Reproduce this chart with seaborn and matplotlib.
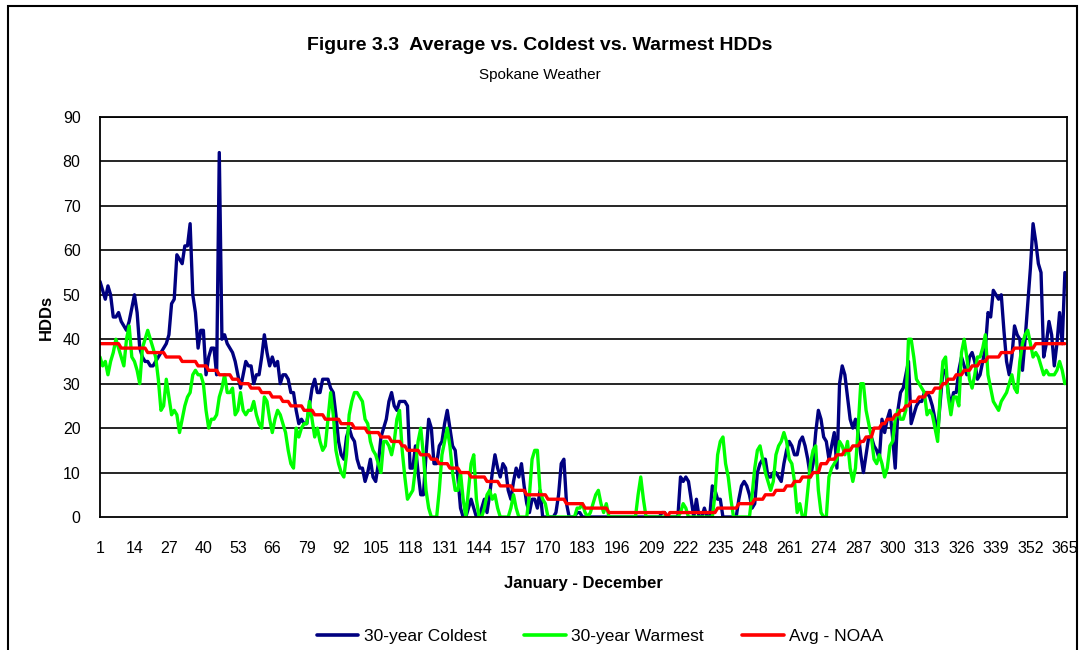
import numpy as np
import pandas as pd
import matplotlib
matplotlib.use("Agg")
import matplotlib.pyplot as plt
from matplotlib import font_manager
from matplotlib.patches import Rectangle
from matplotlib.lines import Line2D
import seaborn as sns

# ---------------- data ----------------
coldest = [
    53, 51, 49, 52, 50, 45, 45, 46, 44, 43,
    42, 44, 47, 50, 46, 38, 36, 35, 35, 34,
    34, 35, 36, 37, 38, 39, 41, 48, 49, 59,
    58, 57, 61, 61, 66, 50, 46, 38, 42, 42,
    32, 36, 38, 38, 32, 82, 40, 41, 39, 38,
    37, 35, 32, 29, 32, 35, 34, 34, 30, 32,
    32, 36, 41, 37, 34, 36, 34, 35, 30, 32,
    32, 31, 28, 28, 24, 21, 22, 21, 21, 25,
    29, 31, 28, 28, 31, 31, 31, 29, 28, 23,
    17, 14, 13, 18, 20, 18, 17, 13, 11, 11,
    8, 10, 13, 9, 8, 12, 18, 20, 22, 26,
    28, 25, 24, 26, 26, 26, 25, 11, 11, 16,
    10, 5, 5, 14, 22, 20, 12, 12, 16, 17,
    21, 24, 20, 16, 15, 9, 2, 0, 0, 2,
    4, 2, 0, 0, 2, 4, 1, 5, 10, 14,
    11, 9, 12, 11, 6, 4, 8, 11, 9, 12,
    7, 3, 1, 4, 4, 2, 6, 0, 0, 0,
    0, 0, 1, 5, 12, 13, 3, 0, 0, 0,
    1, 1, 0, 0, 0, 0, 0, 0, 0, 0,
    0, 0, 0, 0, 0, 0, 0, 0, 0, 0,
    0, 0, 0, 0, 0, 0, 0, 0, 0, 0,
    0, 0, 1, 1, 0, 0, 0, 0, 0, 9,
    8, 9, 8, 4, 0, 4, 0, 0, 2, 0,
    0, 7, 6, 4, 4, 0, 0, 0, 0, 0,
    0, 4, 7, 8, 7, 5, 2, 3, 10, 12,
    13, 13, 9, 9, 10, 10, 9, 8, 12, 15,
    17, 16, 14, 14, 17, 18, 16, 13, 9, 12,
    19, 24, 22, 18, 17, 13, 16, 19, 11, 30,
    34, 32, 27, 22, 20, 22, 19, 14, 10, 14,
    18, 18, 16, 15, 13, 22, 19, 22, 24, 18,
    11, 24, 28, 29, 32, 35, 21, 23, 25, 26,
    26, 28, 28, 27, 25, 22, 19, 26, 33, 33,
    28, 25, 28, 28, 33, 36, 34, 32, 36, 37,
    35, 31, 32, 35, 38, 46, 45, 51, 50, 49,
    50, 42, 35, 32, 36, 43, 41, 40, 33, 40,
    48, 56, 66, 62, 57, 55, 36, 39, 44, 41,
    34, 39, 46, 39, 55,
]

warmest = [
    36, 34, 35, 32, 35, 37, 40, 38, 36, 34,
    40, 43, 36, 35, 33, 30, 38, 40, 42, 40,
    38, 36, 31, 24, 25, 31, 27, 23, 24, 23,
    19, 22, 25, 27, 28, 32, 33, 32, 32, 30,
    24, 20, 22, 22, 23, 27, 29, 32, 28, 28,
    29, 23, 24, 28, 24, 23, 24, 24, 26, 23,
    21, 20, 27, 26, 22, 19, 22, 24, 23, 21,
    19, 15, 12, 11, 20, 18, 20, 21, 21, 26,
    22, 18, 20, 17, 15, 16, 22, 28, 23, 15,
    12, 10, 9, 14, 23, 26, 28, 28, 27, 26,
    22, 21, 17, 15, 14, 12, 10, 17, 17, 16,
    14, 17, 22, 24, 15, 9, 4, 5, 6, 11,
    17, 20, 14, 6, 2, 0, 0, 0, 6, 14,
    17, 20, 16, 10, 6, 6, 10, 4, 0, 6,
    12, 14, 4, 0, 0, 2, 5, 6, 4, 5,
    2, 0, 0, 0, 0, 2, 5, 2, 0, 0,
    0, 0, 5, 13, 15, 15, 6, 4, 3, 0,
    0, 0, 0, 0, 0, 0, 0, 0, 0, 0,
    2, 2, 3, 1, 0, 1, 3, 5, 6, 3,
    1, 3, 0, 0, 0, 0, 0, 0, 0, 0,
    0, 0, 0, 5, 9, 4, 0, 0, 0, 0,
    0, 0, 0, 0, 0, 0, 0, 0, 0, 1,
    3, 2, 0, 0, 0, 0, 0, 0, 0, 0,
    0, 0, 5, 14, 17, 18, 12, 9, 4, 0,
    0, 0, 0, 0, 0, 0, 5, 11, 15, 16,
    13, 10, 8, 6, 8, 14, 16, 17, 19, 17,
    13, 12, 8, 1, 3, 0, 0, 6, 12, 15,
    16, 6, 1, 0, 0, 9, 11, 12, 13, 17,
    16, 14, 17, 11, 8, 11, 20, 30, 30, 24,
    21, 18, 13, 12, 14, 12, 9, 11, 16, 17,
    22, 24, 22, 22, 24, 40, 40, 36, 31, 30,
    29, 28, 23, 24, 23, 20, 17, 28, 35, 36,
    27, 23, 27, 27, 25, 37, 40, 36, 31, 29,
    32, 36, 36, 38, 41, 32, 29, 26, 25, 24,
    26, 27, 28, 30, 32, 29, 28, 35, 39, 41,
    42, 39, 36, 37, 36, 34, 32, 33, 32, 32,
    32, 33, 35, 33, 30,
]

avg_noaa = [
    39, 39, 39, 39, 39, 39, 39, 39, 38, 38,
    38, 38, 38, 38, 38, 38, 38, 38, 37, 37,
    37, 37, 37, 37, 37, 36, 36, 36, 36, 36,
    36, 35, 35, 35, 35, 35, 35, 34, 34, 34,
    34, 33, 33, 33, 33, 32, 32, 32, 32, 32,
    31, 31, 31, 30, 30, 30, 30, 29, 29, 29,
    29, 28, 28, 28, 28, 27, 27, 27, 27, 26,
    26, 26, 25, 25, 25, 25, 25, 24, 24, 24,
    24, 23, 23, 23, 23, 22, 22, 22, 22, 22,
    22, 21, 21, 21, 21, 21, 20, 20, 20, 20,
    20, 19, 19, 19, 19, 19, 18, 18, 18, 18,
    17, 17, 17, 17, 16, 16, 15, 15, 15, 15,
    15, 14, 14, 14, 14, 13, 13, 13, 12, 12,
    12, 12, 11, 11, 11, 11, 10, 10, 10, 10,
    9, 9, 9, 9, 9, 9, 8, 8, 8, 8,
    8, 7, 7, 7, 7, 7, 6, 6, 6, 6,
    6, 5, 5, 5, 5, 5, 5, 5, 5, 4,
    4, 4, 4, 4, 4, 4, 3, 3, 3, 3,
    3, 3, 3, 2, 2, 2, 2, 2, 2, 2,
    2, 2, 1, 1, 1, 1, 1, 1, 1, 1,
    1, 1, 1, 1, 1, 1, 1, 1, 1, 1,
    1, 1, 1, 1, 0, 1, 1, 1, 1, 1,
    1, 1, 1, 1, 1, 1, 1, 1, 1, 1,
    1, 1, 1, 2, 2, 2, 2, 2, 2, 2,
    2, 3, 3, 3, 3, 3, 3, 4, 4, 4,
    4, 5, 5, 5, 5, 6, 6, 6, 6, 7,
    7, 7, 8, 8, 8, 9, 9, 9, 9, 10,
    10, 10, 12, 12, 12, 13, 13, 13, 14, 14,
    14, 15, 15, 15, 16, 16, 16, 17, 17, 18,
    18, 18, 20, 20, 20, 21, 21, 22, 22, 22,
    23, 23, 24, 24, 25, 25, 26, 26, 26, 27,
    27, 27, 28, 28, 28, 29, 29, 29, 30, 30,
    31, 31, 31, 32, 32, 32, 33, 33, 33, 34,
    34, 34, 35, 35, 35, 36, 36, 36, 36, 36,
    37, 37, 37, 37, 37, 38, 38, 38, 38, 38,
    38, 38, 38, 39, 39, 39, 39, 39, 39, 39,
    39, 39, 39, 39, 39,
]

days = list(range(1, 366))
x_tick_labels = [str(d) for d in range(1, 366, 13)]
y_ticks = [0, 10, 20, 30, 40, 50, 60, 70, 80, 90]

series_names = ["30-year Coldest", "30-year Warmest", "Avg - NOAA"]
series_colors = ["#000080", "#00FF00", "#FF0000"]

df = pd.DataFrame({
    "day": days * 3,
    "HDDs": coldest + warmest + avg_noaa,
    "series": [series_names[0]] * 365 + [series_names[1]] * 365 + [series_names[2]] * 365,
})

# ---------------- style ----------------
sns.set_style("white")
avail = {f.name for f in font_manager.fontManager.ttflist}
main_font = "Liberation Sans Narrow" if "Liberation Sans Narrow" in avail else "Liberation Sans"
plt.rcParams["font.family"] = [main_font, "DejaVu Sans"]
for key in ["text.color", "axes.labelcolor", "xtick.color", "ytick.color"]:
    plt.rcParams[key] = "black"

fig = plt.figure(figsize=(10.79, 6.5), dpi=100)
ax = fig.add_axes([100 / 1079, 1 - 517 / 650, 967 / 1079, 400 / 650])

sns.lineplot(data=df, x="day", y="HDDs", hue="series", hue_order=series_names,
             palette=series_colors, linewidth=2.4, ax=ax, legend=False)

ax.set_xlim(1, 365.8)
ax.set_ylim(0, 90)
ax.set_yticks(y_ticks)
ax.set_yticklabels([str(v) for v in y_ticks], fontsize=11.5)
ax.set_xticks(list(range(1, 366, 13)))
ax.set_xticklabels(x_tick_labels, fontsize=11.5)
ax.set_xticks(list(range(1, 366, 5)), minor=True)
ax.tick_params(axis="x", which="major", length=0, pad=17)
ax.tick_params(axis="x", which="minor", length=5, width=1, color="black", direction="out")
ax.tick_params(axis="y", which="major", length=5, width=1, color="black", direction="out", pad=9)

ax.grid(False)
for v in y_ticks[1:]:
    ax.axhline(v, color="black", linewidth=1.2, zorder=0.5)
for sp in ax.spines.values():
    sp.set_visible(True)
    sp.set_color("black")
    sp.set_linewidth(1.3)

ax.set_xlabel("January - December", fontsize=12, fontweight="bold", labelpad=15)
ax.set_ylabel("HDDs", fontsize=12, fontweight="bold", labelpad=6)

fig.text(0.5, 1 - 45 / 650, "Figure 3.3  Average vs. Coldest vs. Warmest HDDs",
         ha="center", va="center", fontsize=14, fontweight="bold")
fig.text(0.5, 1 - 75 / 650, "Spokane Weather", ha="center", va="center", fontsize=11)

# legend
handles = [Line2D([0], [0], color=c, linewidth=2.6) for c in series_colors]
fig.legend(handles, series_names, loc="center", bbox_to_anchor=(600 / 1079, 1 - 636 / 650),
           ncol=3, frameon=False, fontsize=12.5, handlelength=2.4, columnspacing=2.2,
           handletextpad=0.3)

# outer chart border
fig.patches.append(Rectangle((8 / 1079, -0.05), (1077 - 8) / 1079, 1.05 - 6 / 650,
                             transform=fig.transFigure, fill=False,
                             edgecolor="black", linewidth=1.5))

fig.savefig("out.png", dpi=100)
